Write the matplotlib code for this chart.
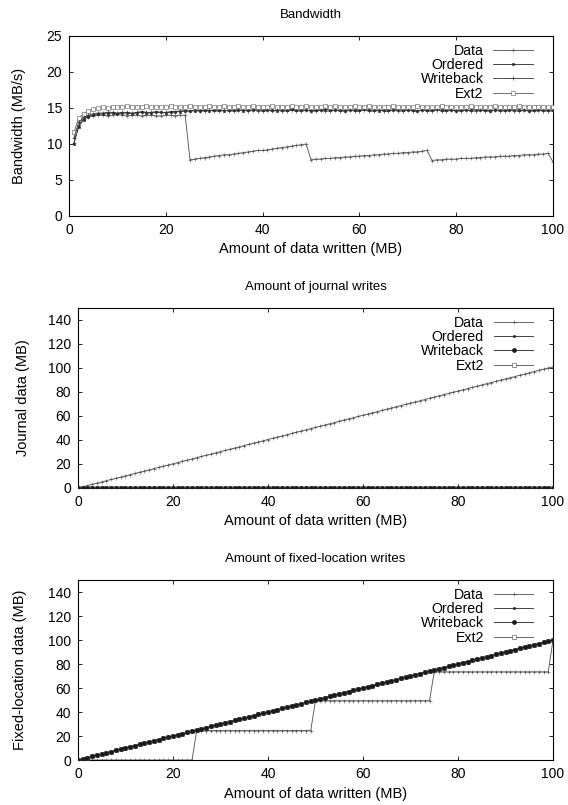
import matplotlib
matplotlib.use("Agg")
import matplotlib.pyplot as plt

plt.rcParams['font.family'] = ['Liberation Sans', 'DejaVu Sans']

# x positions (MB written)
bw_x = list(range(1, 101))
mb_x = list(range(0, 101))

# bandwidth (MB/s)
bw_data = [
    10.2, 12.6, 13.5, 13.8, 13.9, 14.0, 14.0, 13.9, 14.0, 14.1,
    14.0, 13.9, 14.0, 14.0, 13.9, 14.0, 14.0, 13.9, 13.9, 14.0,
    14.0, 13.9, 14.0, 14.0, 7.8, 7.9, 8.0, 8.1, 8.2, 8.3,
    8.4, 8.5, 8.5, 8.6, 8.7, 8.8, 8.9, 9.0, 9.1, 9.1,
    9.2, 9.3, 9.4, 9.5, 9.6, 9.7, 9.8, 9.9, 10.0, 7.8,
    7.9, 7.9, 8.0, 8.0, 8.1, 8.1, 8.2, 8.2, 8.3, 8.3,
    8.4, 8.4, 8.5, 8.5, 8.6, 8.6, 8.7, 8.7, 8.8, 8.8,
    8.9, 8.9, 9.0, 9.1, 7.7, 7.8, 7.8, 7.9, 7.9, 7.9,
    8.0, 8.0, 8.0, 8.1, 8.1, 8.2, 8.2, 8.2, 8.3, 8.3,
    8.3, 8.4, 8.4, 8.5, 8.5, 8.5, 8.6, 8.6, 8.7, 7.5]
bw_ordered = [
    10.0, 12.4, 13.4, 13.8, 14.0, 14.1, 14.2, 14.2, 14.3, 14.2,
    14.3, 14.3, 14.2, 14.3, 14.4, 14.3, 14.3, 14.4, 14.4, 14.3,
    14.4, 14.5, 14.5, 14.6, 14.6, 14.6, 14.6, 14.7, 14.6, 14.7,
    14.7, 14.6, 14.7, 14.7, 14.7, 14.6, 14.7, 14.7, 14.8, 14.7,
    14.7, 14.7, 14.6, 14.7, 14.7, 14.8, 14.7, 14.7, 14.7, 14.6,
    14.7, 14.7, 14.8, 14.7, 14.7, 14.7, 14.6, 14.7, 14.7, 14.7,
    14.8, 14.7, 14.7, 14.6, 14.7, 14.7, 14.7, 14.8, 14.7, 14.7,
    14.7, 14.6, 14.7, 14.7, 14.7, 14.8, 14.7, 14.7, 14.7, 14.6,
    14.7, 14.7, 14.7, 14.8, 14.7, 14.7, 14.6, 14.7, 14.7, 14.7,
    14.7, 14.8, 14.7, 14.7, 14.6, 14.7, 14.7, 14.7, 14.7, 14.7]
bw_writeback = [
    10.8, 13.0, 13.7, 14.0, 14.2, 14.3, 14.3, 14.4, 14.4, 14.3,
    14.4, 14.4, 14.3, 14.4, 14.5, 14.4, 14.4, 14.5, 14.4, 14.4,
    14.5, 14.5, 14.6, 14.6, 14.6, 14.7, 14.6, 14.6, 14.7, 14.6,
    14.6, 14.7, 14.6, 14.6, 14.7, 14.7, 14.6, 14.7, 14.6, 14.6,
    14.7, 14.6, 14.7, 14.6, 14.6, 14.7, 14.6, 14.6, 14.7, 14.6,
    14.6, 14.7, 14.6, 14.6, 14.7, 14.6, 14.6, 14.7, 14.6, 14.6,
    14.7, 14.6, 14.6, 14.7, 14.6, 14.6, 14.7, 14.6, 14.6, 14.7,
    14.6, 14.6, 14.7, 14.6, 14.6, 14.7, 14.6, 14.6, 14.7, 14.6,
    14.6, 14.7, 14.6, 14.6, 14.7, 14.6, 14.6, 14.7, 14.6, 14.6,
    14.7, 14.6, 14.6, 14.7, 14.6, 14.6, 14.7, 14.6, 14.6, 14.6]
bw_ext2 = [
    11.6, 13.6, 14.2, 14.6, 14.8, 15.0, 15.1, 15.0, 15.1, 15.2,
    15.1, 15.3, 15.2, 15.1, 15.2, 15.3, 15.1, 15.2, 15.2, 15.1,
    15.3, 15.2, 15.1, 15.2, 15.3, 15.2, 15.2, 15.1, 15.3, 15.2,
    15.2, 15.3, 15.1, 15.2, 15.3, 15.2, 15.2, 15.3, 15.2, 15.1,
    15.2, 15.3, 15.2, 15.2, 15.1, 15.3, 15.2, 15.2, 15.3, 15.2,
    15.1, 15.2, 15.3, 15.2, 15.3, 15.2, 15.1, 15.2, 15.3, 15.2,
    15.2, 15.3, 15.2, 15.1, 15.2, 15.2, 15.3, 15.2, 15.2, 15.1,
    15.2, 15.3, 15.2, 15.2, 15.1, 15.2, 15.3, 15.2, 15.2, 15.1,
    15.2, 15.2, 15.3, 15.2, 15.1, 15.2, 15.2, 15.3, 15.2, 15.2,
    15.1, 15.2, 15.3, 15.2, 15.2, 15.1, 15.2, 15.2, 15.1, 15.2]

# journal writes (MB)
journal_data = [
    0, 1.0, 2.0, 3.0, 4.0, 5.1, 6.1, 7.1, 8.1, 9.1,
    10.1, 11.1, 12.1, 13.1, 14.1, 15.2, 16.2, 17.2, 18.2, 19.2,
    20.2, 21.2, 22.2, 23.2, 24.2, 25.3, 26.3, 27.3, 28.3, 29.3,
    30.3, 31.3, 32.3, 33.3, 34.3, 35.4, 36.4, 37.4, 38.4, 39.4,
    40.4, 41.4, 42.4, 43.4, 44.4, 45.5, 46.5, 47.5, 48.5, 49.5,
    50.5, 51.5, 52.5, 53.5, 54.5, 55.6, 56.6, 57.6, 58.6, 59.6,
    60.6, 61.6, 62.6, 63.6, 64.6, 65.7, 66.7, 67.7, 68.7, 69.7,
    70.7, 71.7, 72.7, 73.7, 74.7, 75.8, 76.8, 77.8, 78.8, 79.8,
    80.8, 81.8, 82.8, 83.8, 84.8, 85.9, 86.9, 87.9, 88.9, 89.9,
    90.9, 91.9, 92.9, 93.9, 94.9, 96.0, 97.0, 98.0, 99.0, 100.0,
    101.0]
journal_none = [
    0, 0, 0, 0, 0, 0, 0, 0, 0, 0, 0, 0, 0, 0, 0, 0, 0, 0, 0, 0,
    0, 0, 0, 0, 0, 0, 0, 0, 0, 0, 0, 0, 0, 0, 0, 0, 0, 0, 0, 0,
    0, 0, 0, 0, 0, 0, 0, 0, 0, 0, 0, 0, 0, 0, 0, 0, 0, 0, 0, 0,
    0, 0, 0, 0, 0, 0, 0, 0, 0, 0, 0, 0, 0, 0, 0, 0, 0, 0, 0, 0,
    0, 0, 0, 0, 0, 0, 0, 0, 0, 0, 0, 0, 0, 0, 0, 0, 0, 0, 0, 0,
    0]

# fixed-location writes (MB)
fixed_data = [
    0, 0, 0, 0, 0, 0, 0, 0, 0, 0,
    0, 0, 0, 0, 0, 0, 0, 0, 0, 0,
    0, 0, 0, 0, 0, 24.5, 24.5, 24.5, 24.5, 24.5,
    24.5, 24.5, 24.5, 24.5, 24.5, 24.5, 24.5, 24.5, 24.5, 24.5,
    24.5, 24.5, 24.5, 24.5, 24.5, 24.5, 24.5, 24.5, 24.5, 24.5,
    49.4, 49.4, 49.4, 49.4, 49.4, 49.4, 49.4, 49.4, 49.4, 49.4,
    49.4, 49.4, 49.4, 49.4, 49.4, 49.4, 49.4, 49.4, 49.4, 49.4,
    49.4, 49.4, 49.4, 49.4, 49.4, 73.5, 73.5, 73.5, 73.5, 73.5,
    73.5, 73.5, 73.5, 73.5, 73.5, 73.5, 73.5, 73.5, 73.5, 73.5,
    73.5, 73.5, 73.5, 73.5, 73.5, 73.5, 73.5, 73.5, 73.5, 73.5,
    100]
fixed_all = [
    0, 1, 2, 3, 4, 5, 6, 7, 8, 9,
    10, 11, 12, 13, 14, 15, 16, 17, 18, 19,
    20, 21, 22, 23, 24, 25, 26, 27, 28, 29,
    30, 31, 32, 33, 34, 35, 36, 37, 38, 39,
    40, 41, 42, 43, 44, 45, 46, 47, 48, 49,
    50, 51, 52, 53, 54, 55, 56, 57, 58, 59,
    60, 61, 62, 63, 64, 65, 66, 67, 68, 69,
    70, 71, 72, 73, 74, 75, 76, 77, 78, 79,
    80, 81, 82, 83, 84, 85, 86, 87, 88, 89,
    90, 91, 92, 93, 94, 95, 96, 97, 98, 99,
    100]

labels = ['Data', 'Ordered', 'Writeback', 'Ext2']
styles = [
    dict(color='0.3', lw=0.6, marker='+', ms=2.2, mew=0.4, zorder=2),
    dict(color='0.15', lw=0.6, marker='s', ms=1.8, mew=0.4, zorder=3),
    dict(color='0.1', lw=0.6, marker='o', ms=3.0, mew=0.4, zorder=5),
    dict(color='0.3', lw=0.6, marker='s', ms=2.4, mew=0.4, mfc='white', zorder=4),
]
bw_styles = [
    styles[0], styles[1],
    dict(color='0.2', lw=0.6, marker='+', ms=2.4, mew=0.5, zorder=4),
    dict(color='0.35', lw=0.6, marker='s', ms=2.2, mew=0.4, mfc='white', zorder=3),
]

fig = plt.figure(figsize=(5.68, 8.05), dpi=100)
ax1 = fig.add_axes([0.1215, 0.7317, 0.852, 0.2236])
ax2 = fig.add_axes([0.1373, 0.3938, 0.8363, 0.2236])
ax3 = fig.add_axes([0.1373, 0.0559, 0.8363, 0.2236])

for lab, st, ys in zip(labels, bw_styles, [bw_data, bw_ordered, bw_writeback, bw_ext2]):
    ax1.plot(bw_x, ys, label=lab, **st)
for lab, st, ys in zip(labels, styles, [journal_data, journal_none, journal_none, journal_none]):
    ax2.plot(mb_x, ys, label=lab, **st)
for lab, st, ys in zip(labels, styles, [fixed_data, fixed_all, fixed_all, fixed_all]):
    ax3.plot(mb_x, ys, label=lab, **st)

ax1.set_ylim(0, 25)
ax1.set_yticks([0, 5, 10, 15, 20, 25])
ax1.set_ylabel('Bandwidth (MB/s)', labelpad=15)
ax1.set_title('Bandwidth', fontsize=9.5, pad=13)

ax2.set_ylim(0, 150)
ax2.set_yticks([0, 20, 40, 60, 80, 100, 120, 140])
ax2.set_ylabel('Journal data (MB)', labelpad=13)
ax2.set_title('Amount of journal writes', fontsize=9.5, pad=13)

ax3.set_ylim(0, 150)
ax3.set_yticks([0, 20, 40, 60, 80, 100, 120, 140])
ax3.set_ylabel('Fixed-location data (MB)', labelpad=15)
ax3.set_title('Amount of fixed-location writes', fontsize=9.5, pad=13)

for ax in (ax1, ax2, ax3):
    ax.set_xlim(0, 100)
    ax.set_xticks([0, 20, 40, 60, 80, 100])
    ax.set_xlabel('Amount of data written (MB)', fontsize=10.5, labelpad=4)
    ax.yaxis.label.set_size(10.5)
    ax.tick_params(direction='in', top=True, right=True, length=3, width=0.6,
                   labelsize=10, pad=5)
    for sp in ax.spines.values():
        sp.set_linewidth(0.8)
    ax.legend(loc='upper right', frameon=False, markerfirst=False, numpoints=1,
              fontsize=10.2, handlelength=2.8, handletextpad=0.7,
              labelspacing=0.02, borderaxespad=0.15,
              bbox_to_anchor=(0.975, 1.0))
    for t in ax.get_legend().get_texts():
        t.set_ha('right')

fig.savefig('out.png', dpi=100)
